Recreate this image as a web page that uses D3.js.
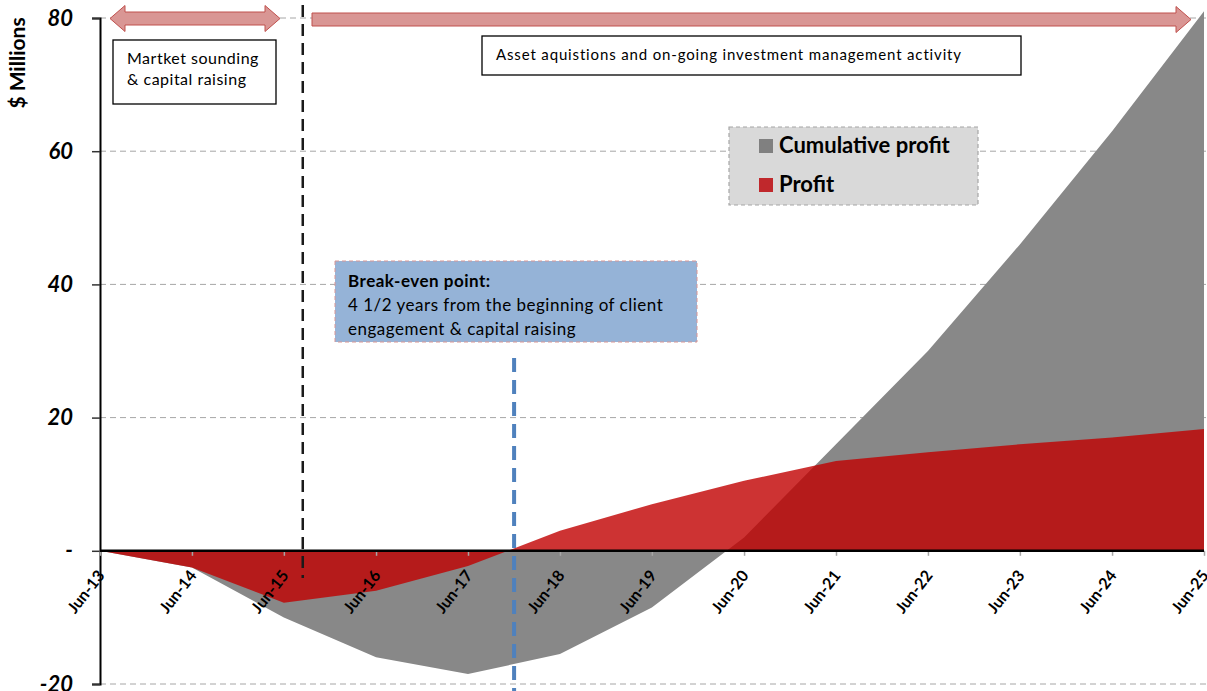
<!DOCTYPE html>
<html>
<head>
<meta charset="utf-8">
<script src="https://cdn.jsdelivr.net/npm/d3@7"></script>
<style>
  body { margin: 0; background: #fff; }
  svg text { font-family: Lato, "Open Sans", sans-serif; }
</style>
</head>
<body>
<svg id="chart" width="1207" height="691"></svg>
<script>
// yearly points, Jun-13 .. Jun-25 ($ millions)
var years = d3.range(2013, 2026);
var cumulative = [0, -2.5, -10, -16, -18.5, -15.5, -8.5, 2, 16, 30, 46, 63, 81];
var profit = [0, -2.5, -7.8, -6, -2.3, 3, 7, 10.5, 13.5, 14.8, 16, 17, 18.3];
var yTicks = [-20, 0, 20, 40, 60, 80];

var breakEven = new Date(2017, 11, 1);   // 4 1/2 years in
var phaseSplit = new Date(2015, 7, 15);

var width = 1207, height = 691;
var svg = d3.select('#chart');

var dates = years.map(function(yr) { return new Date(yr, 5, 1); });
var rows = dates.map(function(d, i) {
  return { date: d, cum: cumulative[i], profit: profit[i] };
});

var x = d3.scaleTime().domain([dates[0], dates[dates.length - 1]]).range([100, 1204]);
var y = d3.scaleLinear().domain([-20, 80]).range([684, 18]);

// grid lines
svg.append('g').selectAll('line')
  .data(yTicks.filter(function(d) { return d !== 0; }))
  .enter().append('line')
  .attr('x1', 100).attr('x2', width)
  .attr('y1', function(d) { return y(d); })
  .attr('y2', function(d) { return y(d); })
  .attr('stroke', '#a6a6a6')
  .attr('stroke-width', 1)
  .attr('stroke-dasharray', '6,4');

// areas
var areaCum = d3.area()
  .x(function(d) { return x(d.date); })
  .y0(y(0))
  .y1(function(d) { return y(d.cum); });

var areaProfit = d3.area()
  .x(function(d) { return x(d.date); })
  .y0(y(0))
  .y1(function(d) { return y(d.profit); });

svg.append('path').datum(rows)
  .attr('d', areaCum)
  .attr('fill', '#888888');

svg.append('path').datum(rows)
  .attr('d', areaProfit)
  .attr('fill', '#c00000')
  .attr('fill-opacity', 0.8);

// y axis
var yAxis = d3.axisLeft(y)
  .tickValues(yTicks)
  .tickSize(8)
  .tickFormat(function(d) { return d === 0 ? '-' : d; });

var gy = svg.append('g')
  .attr('transform', 'translate(100,0)')
  .call(yAxis)
  .attr('font-family', null);
gy.select('.domain').attr('stroke', '#000').attr('stroke-width', 2);
gy.selectAll('.tick line').attr('stroke', '#333').attr('stroke-width', 1.5);
gy.selectAll('.tick text')
  .attr('x', -27)
  .style('font-size', '22px')
  .style('font-weight', 'bold')
  .style('font-style', 'italic')
  .attr('fill', '#000');

svg.append('text')
  .attr('transform', 'translate(25,63) rotate(-90)')
  .attr('text-anchor', 'middle')
  .style('font-size', '21px')
  .style('font-weight', 'bold')
  .text('$ Millions');

// x axis
var xAxis = d3.axisBottom(x)
  .tickValues(dates)
  .tickSize(5)
  .tickFormat(d3.timeFormat('%b-%y'));

var gx = svg.append('g')
  .attr('transform', 'translate(0,' + y(0) + ')')
  .call(xAxis)
  .attr('font-family', null);
gx.select('.domain').remove();
gx.selectAll('.tick line').attr('stroke', '#a6a6a6').attr('stroke-width', 1.5);
gx.selectAll('.tick text')
  .attr('text-anchor', 'end')
  .attr('dy', 0)
  .attr('y', 0)
  .attr('transform', 'translate(5,25) rotate(-52)')
  .style('font-size', '16px')
  .style('font-weight', 'bold')
  .attr('fill', '#000');

svg.append('line')
  .attr('x1', 100).attr('x2', 1204)
  .attr('y1', y(0)).attr('y2', y(0))
  .attr('stroke', '#000')
  .attr('stroke-width', 2.5);

// phase divider and break-even markers
svg.append('line')
  .attr('x1', x(phaseSplit)).attr('x2', x(phaseSplit))
  .attr('y1', 5).attr('y2', 578)
  .attr('stroke', '#1a1a1a')
  .attr('stroke-width', 2.5)
  .attr('stroke-dasharray', '12,7');

svg.append('line')
  .attr('x1', x(breakEven)).attr('x2', x(breakEven))
  .attr('y1', 358).attr('y2', height)
  .attr('stroke', '#4f81bd')
  .attr('stroke-width', 4)
  .attr('stroke-dasharray', '14,8');

// arrows along the top
function arrow(x0, x1, cy, doubleHead) {
  var h = 15, bh = 6.5, hh = 13;
  var p = [];
  if (doubleHead) {
    p.push([x0, cy], [x0 + h, cy - hh], [x0 + h, cy - bh]);
  } else {
    p.push([x0, cy - bh]);
  }
  p.push([x1 - h, cy - bh], [x1 - h, cy - hh], [x1, cy], [x1 - h, cy + hh], [x1 - h, cy + bh]);
  if (doubleHead) {
    p.push([x0 + h, cy + bh], [x0 + h, cy + hh]);
  } else {
    p.push([x0, cy + bh]);
  }
  svg.append('path')
    .attr('d', d3.line()(p) + 'Z')
    .attr('fill', '#d99694')
    .attr('stroke', '#c0504d')
    .attr('stroke-width', 1);
}
arrow(110, 280, 18.5, true);
arrow(312, 1191, 19.5, false);

// phase boxes
function textBox(bx, by, bw, bh, lines, opts) {
  var g = svg.append('g');
  g.append('rect')
    .attr('x', bx).attr('y', by).attr('width', bw).attr('height', bh)
    .attr('fill', opts.fill || '#fff')
    .attr('stroke', opts.stroke || '#000')
    .attr('stroke-width', opts.strokeWidth || 1.3)
    .attr('stroke-dasharray', opts.dash || null);
  g.selectAll('text').data(lines).enter().append('text')
    .attr('x', bx + opts.padX)
    .attr('y', function(d, i) { return by + opts.firstY + i * opts.lineH; })
    .style('font-size', opts.size + 'px')
    .style('letter-spacing', (opts.spacing || 0) + 'px')
    .style('font-weight', function(d, i) { return opts.boldFirst && i === 0 ? 'bold' : 'normal'; })
    .attr('fill', '#000')
    .text(function(d) { return d; });
}

textBox(113, 40, 163, 64, ['Martket sounding', '& capital raising'],
  { padX: 14, firstY: 24, lineH: 21, size: 16, spacing: 0.5 });

textBox(482, 36, 539, 39, ['Asset aquistions and on-going investment management activity'],
  { padX: 14, firstY: 24, lineH: 20, size: 15, spacing: 0.85 });

textBox(335, 261, 362, 81,
  ['Break-even point:', '4 1/2 years from the beginning of client', 'engagement  & capital raising'],
  { padX: 13, firstY: 26, lineH: 24, size: 17, spacing: 0.5, boldFirst: true,
    fill: '#95b3d7', stroke: '#d99694', strokeWidth: 1, dash: '4,3' });

// legend
var legend = svg.append('g');
legend.append('rect')
  .attr('x', 729).attr('y', 127).attr('width', 249).attr('height', 78)
  .attr('fill', '#d9d9d9')
  .attr('stroke', '#a6a6a6')
  .attr('stroke-width', 1.2)
  .attr('stroke-dasharray', '4,3');

var legendItems = [
  { name: 'Cumulative profit', color: '#808080' },
  { name: 'Profit', color: '#c0282c' }
];
var li = legend.selectAll('g.item').data(legendItems).enter().append('g')
  .attr('transform', function(d, i) { return 'translate(759,' + (139 + i * 39) + ')'; });
li.append('rect')
  .attr('width', 14).attr('height', 14)
  .attr('fill', function(d) { return d.color; });
li.append('text')
  .attr('x', 20).attr('y', 14)
  .style('font-size', '22px')
  .style('font-weight', 'bold')
  .attr('fill', '#000')
  .text(function(d) { return d.name; });
</script>
</body>
</html>
